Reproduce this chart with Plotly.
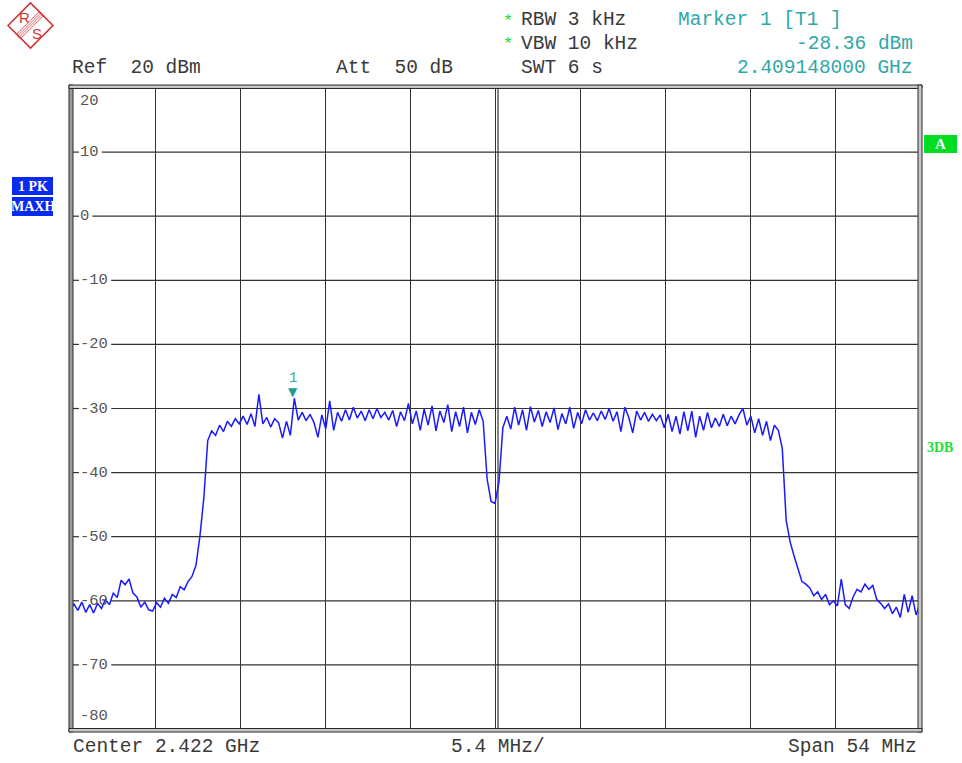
import plotly.graph_objects as go
import numpy as np

# ---------------- data ----------------
start_mhz = 2395.0
stop_mhz = 2449.0
center_ghz = 2.422
span_mhz = 54
div_mhz = 5.4
ref_dbm = 20
att_db = 50

level_dbm = [
    -61.0, -60.5, -61.5, -60.2, -61.8, -60.6, -61.9, -60.4, -61.2, -59.8,
    -60.6, -58.8, -59.5, -56.8, -57.5, -56.6, -58.8, -59.4, -61.0, -60.2,
    -61.4, -61.6, -60.3, -61.0, -59.6, -60.4, -59.0, -59.5, -57.8, -58.3,
    -57.0, -56.2, -54.5, -50.0, -44.0, -35.0, -33.5, -34.2, -32.6, -33.6,
    -32.0, -32.8, -31.6, -32.4,
    -31.2, -32.5, -30.8, -32.8, -27.8, -32.4,
    -31.4, -32.9, -31.6, -32.2, -34.6, -32.0, -34.2, -28.4, -31.8, -30.6,
    -31.9, -30.9, -32.2, -34.5, -31.0, -33.2, -28.8, -33.4, -30.6, -32.0,
    -30.2, -31.8, -29.8, -31.5, -30.4, -31.9, -30.2, -31.6, -30.0, -31.4,
    -30.6, -31.8, -30.3, -32.8, -30.5, -31.9, -29.2, -32.4, -30.4, -33.4,
    -30.1, -32.6, -29.6, -33.5, -30.4, -32.2, -29.4, -33.6, -30.5, -32.8,
    -29.8, -33.8, -30.6, -32.5, -30.2, -32.0, -41.0, -44.5, -44.8, -41.5,
    -33.0, -31.2,
    -33.2, -29.8, -32.6, -30.2, -33.4, -29.7, -32.1, -30.3,
    -32.8, -30.5, -32.2, -29.9, -33.3, -30.8, -32.4, -29.8, -33.1, -30.6,
    -32.4, -30.2, -31.8, -30.7, -31.9, -30.4, -31.7, -30.0, -32.0, -30.5,
    -33.6, -29.8, -31.4, -33.8, -30.4, -31.8, -30.6, -32.0, -30.9, -31.9,
    -31.0, -33.0, -30.9, -33.6, -31.2, -34.0, -30.5, -33.5, -30.4, -34.5,
    -31.2, -33.4, -30.6, -33.0, -31.5, -32.8, -30.9, -32.7, -31.2, -32.4,
    -31.0, -30.0, -32.6, -31.2, -33.8, -31.6, -34.2, -32.0, -35.0, -32.6,
    -33.4, -36.2,
    -47.5, -50.8, -53.0, -55.2, -57.0, -57.4, -58.0, -59.2,
    -58.6, -59.8, -59.0, -60.6, -60.0, -60.8, -56.6, -60.6, -61.2, -59.4,
    -58.2, -58.6, -57.4, -58.2, -57.6, -59.8, -60.4, -61.2, -60.5, -62.0,
    -61.0, -62.6, -59.0, -61.8, -59.2, -62.2, -60.5,
]
freq_mhz = np.linspace(start_mhz, stop_mhz, len(level_dbm))

marker_freq_ghz = 2.409148
marker_level_dbm = -28.36

y_ticks = [20, 10, 0, -10, -20, -30, -40, -50, -60, -70, -80]
y_tick_labels = ["20", "10", "0", "-10", "-20", "-30", "-40", "-50", "-60", "-70", "-80"]

# ---------------- layout geometry ----------------
W, H = 962, 763
L, R, T, B = 70, 42, 88, 34
PW, PH = W - L - R, H - T - B

def px(x):
    return (x - L) / PW

def py(y):
    return (H - B - y) / PH

MONO = "Liberation Mono, Courier New, monospace"
TXT = "#3a3a3a"
TEAL = "#2fa8a8"
GREEN = "#22dd33"
BLUE = "#1a1aff"
RED = "#d03535"
GRID = "#333333"
NB = "\u00a0"

fig = go.Figure()
fig.add_trace(go.Scatter(
    x=freq_mhz, y=level_dbm, mode="lines",
    line=dict(color=BLUE, width=1.5), hoverinfo="skip", showlegend=False,
))

shapes = []
annotations = []

def text(x, y, s, color=TXT, size=19.5, anchor="left", bold=False, fam=MONO, **kw):
    annotations.append(dict(
        xref="paper", yref="paper", x=px(x), y=py(y), text=("<b>%s</b>" % s) if bold else s,
        showarrow=False, xanchor=anchor, yanchor="middle",
        font=dict(family=fam, size=size, color=color), borderpad=0, **kw))

# header
text(71, 68, "Ref" + NB * 2 + "%d dBm" % ref_dbm)
text(335, 68, "Att" + NB * 2 + "%d dB" % att_db)
text(508, 21, "*", color=GREEN, size=17, anchor="center")
text(508, 45, "*", color=GREEN, size=17, anchor="center")
text(520, 20, "RBW 3 kHz")
text(520, 44, "VBW 10 kHz")
text(520, 68, "SWT 6 s")
text(677, 20, "Marker 1 [T1 ]", color=TEAL)
text(914, 44, "%.2f dBm" % marker_level_dbm, color=TEAL, anchor="right")
text(914, 68, "%.9f GHz" % marker_freq_ghz, color=TEAL, anchor="right")

# footer
text(72, 747, "Center %.3f GHz" % center_ghz)
text(450, 747, "%.1f MHz/" % div_mhz)
text(918, 747, "Span %d MHz" % span_mhz, anchor="right")

# left status boxes
shapes.append(dict(type="rect", xref="paper", yref="paper", x0=px(12), x1=px(53), y0=py(177), y1=py(195),
                   fillcolor="#0a2af0", line=dict(width=0), layer="above"))
shapes.append(dict(type="rect", xref="paper", yref="paper", x0=px(12), x1=px(53), y0=py(197), y1=py(216),
                   fillcolor="#0a2af0", line=dict(width=0), layer="above"))
text(32.5, 186, "1" + NB + "PK", color="white", size=14, anchor="center", bold=True,
     fam="Liberation Serif, serif")
text(32.5, 206.5, "MAXH", color="white", size=14, anchor="center", bold=True,
     fam="Liberation Serif, serif")

# right side labels
shapes.append(dict(type="rect", xref="paper", yref="paper", x0=px(924), x1=px(957), y0=py(135), y1=py(153),
                   fillcolor="#00dd22", line=dict(width=0), layer="above"))
text(940.5, 144, "A", color="white", size=15, anchor="center", bold=True, fam="Liberation Serif, serif")
text(940, 447, "3DB", color=GREEN, size=14, anchor="center", bold=True, fam="Liberation Serif, serif")

# y grid lines (drawn in two pieces around the inside tick labels) and labels
for v, lab in zip(y_ticks, y_tick_labels):
    shift = 0
    if v == y_ticks[0]:
        shift = -13
    elif v == y_ticks[-1]:
        shift = 13
    annotations.append(dict(xref="paper", yref="y", x=px(79), y=v, yshift=shift, text=lab,
                            showarrow=False, xanchor="left", yanchor="middle", borderpad=0,
                            font=dict(family=MONO, size=15.5, color="#555555")))
    if shift == 0:
        shapes.append(dict(type="line", xref="paper", yref="y", x0=px(73), x1=px(79), y0=v, y1=v,
                           line=dict(color=GRID, width=1.2), layer="below"))
        shapes.append(dict(type="line", xref="paper", yref="y", x0=px(80 + 9.4 * len(lab) + 3), x1=1,
                           y0=v, y1=v, line=dict(color=GRID, width=1.2), layer="below"))

# marker
annotations.append(dict(x=marker_freq_ghz * 1000, y=marker_level_dbm, xref="x", yref="y",
                        text="\u25BC", showarrow=False, xanchor="center", yanchor="bottom",
                        yshift=-3, font=dict(family="DejaVu Sans", size=12, color="#1f9d95")))
annotations.append(dict(x=marker_freq_ghz * 1000, y=marker_level_dbm, xref="x", yref="y",
                        text="1", showarrow=False, xanchor="center", yanchor="middle",
                        yshift=20, font=dict(family=MONO, size=14, color=TEAL)))

# frame (double lines)
fr = "#2a2a2a"
shapes.append(dict(type="rect", xref="paper", yref="paper", x0=px(69), x1=px(73), y0=py(85), y1=py(732),
                   fillcolor="#9a9a9a", line=dict(color=fr, width=1), layer="above"))
shapes.append(dict(type="rect", xref="paper", yref="paper", x0=px(69), x1=px(922), y0=py(85), y1=py(88.5),
                   fillcolor="#c8c8c8", line=dict(color=fr, width=1), layer="above"))
shapes.append(dict(type="rect", xref="paper", yref="paper", x0=px(918), x1=px(922), y0=py(85), y1=py(732),
                   fillcolor="#c8c8c8", line=dict(color=fr, width=1), layer="above"))
shapes.append(dict(type="rect", xref="paper", yref="paper", x0=px(69), x1=px(922), y0=py(728.5), y1=py(732),
                   fillcolor="#c8c8c8", line=dict(color=fr, width=1), layer="above"))
# centre double grid line
shapes.append(dict(type="line", xref="paper", yref="paper", x0=px(498), x1=px(498), y0=0, y1=1,
                   line=dict(color=GRID, width=1.2), layer="below"))

# R&S logo
cx, cy, hd = 30.5, 25.5, 22.5
path = "M {} {} L {} {} L {} {} L {} {} Z".format(
    px(cx - hd), py(cy), px(cx), py(cy - hd), px(cx + hd), py(cy), px(cx), py(cy + hd))
shapes.append(dict(type="path", xref="paper", yref="paper", path=path,
                   line=dict(color=RED, width=1.6), fillcolor="rgba(0,0,0,0)", layer="above"))
for off in (-3, -1, 1, 3):
    shapes.append(dict(type="line", xref="paper", yref="paper",
                       x0=px(18 + off * 0.7), y0=py(37 + off * 0.7), x1=px(42 + off * 0.7), y1=py(13 + off * 0.7),
                       line=dict(color=RED, width=0.8), layer="above"))
text(24.5, 17.5, "R", color=RED, size=15, anchor="center", fam="Liberation Sans, sans-serif")
text(36.5, 33.5, "S", color=RED, size=15, anchor="center", fam="Liberation Sans, sans-serif")

fig.update_layout(
    width=W, height=H,
    margin=dict(l=L, r=R, t=T, b=B, pad=0),
    paper_bgcolor="white", plot_bgcolor="white",
    showlegend=False,
    xaxis=dict(range=[start_mhz, stop_mhz], tick0=start_mhz, dtick=div_mhz,
               showgrid=True, gridcolor=GRID, gridwidth=1.2,
               showticklabels=False, ticks="", zeroline=False, showline=False, fixedrange=True),
    yaxis=dict(range=[-80, 20], tick0=-80, dtick=10,
               showgrid=False,
               showticklabels=False, ticks="", zeroline=False, showline=False, fixedrange=True),
    shapes=shapes,
    annotations=annotations,
)

fig.write_html("out.html", config={"displayModeBar": False},
               post_script="document.body.style.margin='0';document.body.style.overflow='hidden';")
